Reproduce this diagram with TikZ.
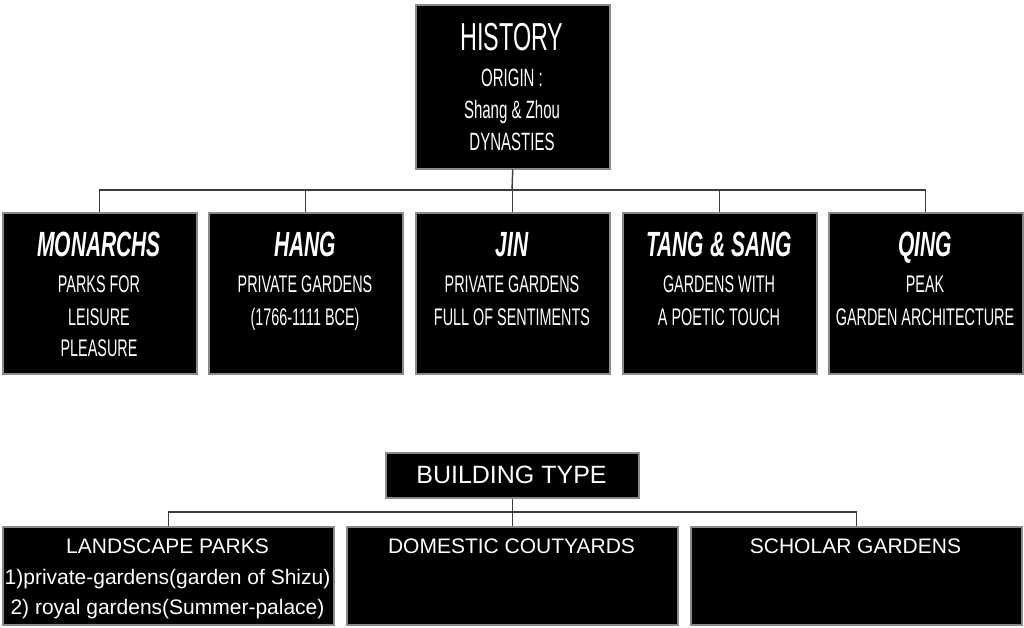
\documentclass[tikz,border=0pt]{standalone}
\usepackage{fontspec}
\setmainfont{Liberation Sans}
\newfontfamily\narrowfont[FakeStretch=0.6]{Liberation Sans}
\definecolor{boxgray}{HTML}{8A8A8A}
\definecolor{linkgray}{HTML}{3C3C3C}
\tikzset{
  box/.style={draw=boxgray, line width=1.5pt, fill=black, inner sep=0pt, anchor=north west},
  link/.style={draw=linkgray, line width=1.4pt},
  txt/.style={text=white, inner sep=0pt, anchor=base},
  bigttl/.style={txt, font={\narrowfont\fontsize{39}{39}\selectfont}},
  midtxt/.style={txt, font={\narrowfont\fontsize{25}{25}\selectfont}},
  rowttl/.style={txt, font={\narrowfont\bfseries\itshape\fontsize{35}{35}\selectfont}},
  rowtxt/.style={txt, font={\narrowfont\fontsize{24}{24}\selectfont}},
  bttl/.style={txt, font={\fontsize{25}{25}\selectfont}},
  btxt/.style={txt, font={\fontsize{21}{21}\selectfont}},
}
\begin{document}
\begin{tikzpicture}[x=1pt,y=-1pt]
\useasboundingbox (0,0) rectangle (1024,627);
% top box
\node[box, minimum width=194pt, minimum height=164pt] (hist) at (415,4) {};
\node[bigttl] (histT) at (512,50) {HISTORY};
\node[midtxt] (hist1) at (512,86) {ORIGIN :};
\node[midtxt] (hist2) at (512,118) {Shang \& Zhou};
\node[midtxt] (hist3) at (512,150) {DYNASTIES};
% row boxes
\node[box, minimum width=194pt, minimum height=161pt] (b1) at (2,212) {};
\node[box, minimum width=194pt, minimum height=161pt] (b2) at (208,212) {};
\node[box, minimum width=194pt, minimum height=161pt] (b3) at (415,212) {};
\node[box, minimum width=194pt, minimum height=161pt] (b4) at (622,212) {};
\node[box, minimum width=194pt, minimum height=161pt] (b5) at (828,212) {};
\coordinate (bus) at (512,190);
\draw[link] (hist.south) -- (bus);
\draw[link] (b1.north) |- (bus) -| (b5.north);
\draw[link] (b2.north) -- (b2.north |- bus);
\draw[link] (b3.north) -- (b3.north |- bus);
\draw[link] (b4.north) -- (b4.north |- bus);
% row texts
\node[rowttl] (b1t) at (99,256) {MONARCHS};
\node[rowtxt] (b1a) at (99,292) {PARKS FOR};
\node[rowtxt] (b1b) at (99,325) {LEISURE};
\node[rowtxt] (b1c) at (99,356) {PLEASURE};
\node[rowttl] (b2t) at (305,256) {HANG};
\node[rowtxt] (b2a) at (305,292) {PRIVATE GARDENS};
\node[rowtxt] (b2b) at (305,325) {(1766-1111 BCE)};
\node[rowttl] (b3t) at (512,256) {JIN};
\node[rowtxt] (b3a) at (512,292) {PRIVATE GARDENS};
\node[rowtxt] (b3b) at (512,325) {FULL OF SENTIMENTS};
\node[rowttl] (b4t) at (719,256) {TANG \& SANG};
\node[rowtxt] (b4a) at (719,292) {GARDENS WITH};
\node[rowtxt] (b4b) at (719,325) {A POETIC TOUCH};
\node[rowttl] (b5t) at (925,256) {QING};
\node[rowtxt] (b5a) at (925,292) {PEAK};
\node[rowtxt] (b5b) at (925,325) {GARDEN ARCHITECTURE};
% building type
\node[box, minimum width=253pt, minimum height=45pt] (bt) at (385,452) {};
\node[bttl] (btT) at (511.5,483) {BUILDING TYPE};
\node[box, minimum width=331pt, minimum height=98pt] (c1) at (2,526) {};
\node[box, minimum width=331pt, minimum height=98pt] (c2) at (346,526) {};
\node[box, minimum width=331pt, minimum height=98pt] (c3) at (690,526) {};
\coordinate (bus2) at (511.5,512);
\draw[link] (bt.south) -- (c2.north);
\draw[link] (c1.north) |- (bus2) -| (c3.north);
\node[btxt] (c1t) at (167.5,553) {LANDSCAPE PARKS};
\node[btxt] (c1a) at (167.5,584) {1)private-gardens(garden of Shizu)};
\node[btxt] (c1b) at (167.5,614) {2) royal gardens(Summer-palace)};
\node[btxt] (c2t) at (511.5,553) {DOMESTIC COUTYARDS};
\node[btxt] (c3t) at (855.5,553) {SCHOLAR GARDENS};
\end{tikzpicture}
\end{document}
